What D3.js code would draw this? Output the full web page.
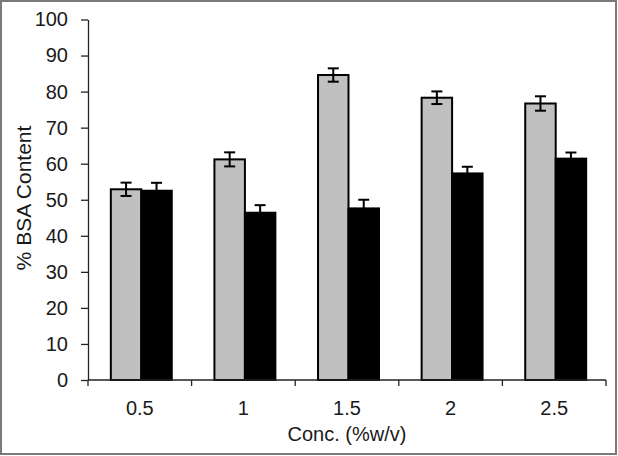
<!DOCTYPE html>
<html><head><meta charset="utf-8">
<script src="https://cdn.jsdelivr.net/npm/d3@7"></script>
<style>body{margin:0;background:#fff}svg{display:block}text{font-family:Arial,"Liberation Sans",sans-serif;fill:#1a1a1a}</style>
</head><body>
<svg id="c" width="618" height="456"></svg>
<script>
const categories = ["0.5", "1", "1.5", "2", "2.5"];
const series = ["A", "B"];
const grayValues = [52.9, 61.2, 84.6, 78.3, 76.7];
const grayErrors = [1.85, 1.95, 1.85, 1.75, 2.0];
const blackValues = [52.5, 46.4, 47.6, 57.3, 61.4];
const blackErrors = [2.2, 2.1, 2.4, 1.85, 1.7];
const yTicks = [0, 10, 20, 30, 40, 50, 60, 70, 80, 90, 100];
const xTitle = "Conc. (%w/v)";
const yTitle = "% BSA Content";
const colors = ["#c0c0c0", "#000000"];

const svg = d3.select("#c");
const m = {l: 88, r: 606, t: 19.5, b: 380};

svg.append("rect").attr("x", 1).attr("y", 1).attr("width", 615).attr("height", 453)
  .attr("fill", "#fff").attr("stroke", "#7a7a7a").attr("stroke-width", 2);

const x = d3.scaleBand().domain(categories).range([m.l, m.r]).padding(0);
const xs = d3.scaleBand().domain(series).range([0, x.bandwidth()]).paddingInner(0).paddingOuter(0.7);
const y = d3.scaleLinear().domain([0, 100]).range([m.b, m.t]);

const data = categories.map((c, i) => ({
  c, vals: [
    {s: "A", v: grayValues[i], e: grayErrors[i], col: colors[0]},
    {s: "B", v: blackValues[i], e: blackErrors[i], col: colors[1]}
  ]
}));

const g = svg.append("g");
const grp = g.selectAll("g.cat").data(data).join("g").attr("transform", d => `translate(${x(d.c) + 1.5},0)`);
grp.selectAll("rect").data(d => d.vals).join("rect")
  .attr("x", d => xs(d.s)).attr("y", d => y(d.v))
  .attr("width", xs.bandwidth()).attr("height", d => y(0) - y(d.v))
  .attr("fill", d => d.col).attr("stroke", "#000").attr("stroke-width", 2);

// error bars
const eb = grp.selectAll("g.err").data(d => d.vals).join("g")
  .attr("transform", d => `translate(${xs(d.s) + xs.bandwidth() / 2},0)`);
eb.append("line").attr("x1", 0).attr("x2", 0).attr("y1", d => y(d.v + d.e)).attr("y2", d => y(d.v - d.e))
  .attr("stroke", "#000").attr("stroke-width", 2);
eb.append("line").attr("x1", -5.5).attr("x2", 5.5).attr("y1", d => y(d.v + d.e)).attr("y2", d => y(d.v + d.e))
  .attr("stroke", "#000").attr("stroke-width", 2);
eb.append("line").attr("x1", -5.5).attr("x2", 5.5).attr("y1", d => y(d.v - d.e)).attr("y2", d => y(d.v - d.e))
  .attr("stroke", "#000").attr("stroke-width", 2);

// y axis
const ya = svg.append("g").attr("transform", `translate(${m.l},0)`)
  .call(d3.axisLeft(y).tickValues(yTicks).tickSize(7).tickPadding(13).tickSizeOuter(0));
ya.select(".domain").attr("stroke", "#222").attr("stroke-width", 1.3);
ya.selectAll(".tick line").attr("stroke", "#222").attr("stroke-width", 1.3);
ya.selectAll("text").attr("font-size", 20).attr("fill", "#1a1a1a").attr("font-family", "Arial, 'Liberation Sans', sans-serif");

// x axis
const boundaries = categories.map(c => x(c)).concat([x(categories[categories.length - 1]) + x.bandwidth()]);
const xa = svg.append("g");
xa.append("line").attr("x1", m.l).attr("x2", m.r).attr("y1", m.b).attr("y2", m.b).attr("stroke", "#222").attr("stroke-width", 1.3);
xa.selectAll("line.tk").data(boundaries).join("line").attr("class", "tk")
  .attr("x1", d => d).attr("x2", d => d).attr("y1", m.b).attr("y2", m.b + 6).attr("stroke", "#222").attr("stroke-width", 1.3);
xa.selectAll("text").data(categories).join("text")
  .attr("x", d => x(d) + x.bandwidth() / 2).attr("y", 415).attr("text-anchor", "middle")
  .attr("font-size", 20).text(d => d);

svg.append("text").attr("x", (m.l + m.r) / 2).attr("y", 441).attr("text-anchor", "middle").attr("font-size", 20).text(xTitle);
svg.append("text").attr("transform", "translate(31,198) rotate(-90)").attr("text-anchor", "middle").attr("font-size", 21).text(yTitle);
</script>
</body></html>
